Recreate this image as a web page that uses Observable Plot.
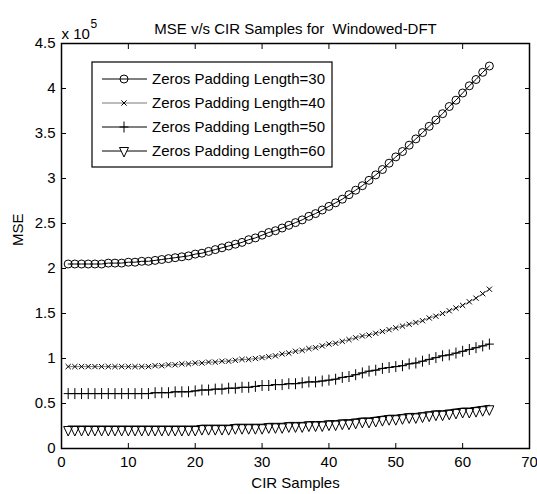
<!DOCTYPE html>
<html><head><meta charset="utf-8">
<script src="https://cdn.jsdelivr.net/npm/d3@7"></script>
<script src="https://cdn.jsdelivr.net/npm/@observablehq/plot@0.6"></script>
<style>body{margin:0;background:#fff;} svg{display:block}</style>
</head><body><div id="chart"></div>
<script>
const samples = [1,2,3,4,5,6,7,8,9,10,11,12,13,14,15,16,17,18,19,20,21,22,23,24,25,26,27,28,29,30,31,32,
  33,34,35,36,37,38,39,40,41,42,43,44,45,46,47,48,49,50,51,52,53,54,55,56,57,58,59,60,61,62,63,64];
const mse30 = [2.05,2.05,2.05,2.05,2.05,2.05,2.06,2.06,2.06,2.07,
  2.07,2.08,2.08,2.09,2.10,2.11,2.12,2.13,2.14,2.16,
  2.17,2.19,2.21,2.23,2.25,2.27,2.29,2.32,2.34,2.37,
  2.40,2.42,2.45,2.48,2.51,2.54,2.58,2.61,2.65,2.69,
  2.73,2.77,2.82,2.87,2.92,2.98,3.04,3.10,3.17,3.24,
  3.30,3.37,3.44,3.51,3.58,3.65,3.72,3.80,3.87,3.95,
  4.03,4.10,4.18,4.25];
const mse40 = [0.91,0.91,0.91,0.91,0.91,0.91,0.91,0.91,0.91,0.91,
  0.91,0.91,0.91,0.92,0.92,0.93,0.93,0.94,0.94,0.95,
  0.95,0.96,0.96,0.97,0.97,0.98,0.99,0.99,1.00,1.01,
  1.02,1.03,1.05,1.06,1.08,1.09,1.11,1.12,1.14,1.16,
  1.17,1.19,1.21,1.23,1.25,1.26,1.28,1.30,1.32,1.34,
  1.36,1.38,1.40,1.42,1.45,1.47,1.50,1.53,1.56,1.59,
  1.63,1.67,1.72,1.77];
const mse50 = [0.61,0.61,0.61,0.61,0.61,0.61,0.61,0.61,0.61,0.61,
  0.61,0.61,0.61,0.62,0.62,0.62,0.63,0.63,0.63,0.64,
  0.65,0.65,0.66,0.66,0.67,0.67,0.68,0.68,0.69,0.70,
  0.70,0.71,0.71,0.72,0.72,0.73,0.74,0.74,0.75,0.76,
  0.77,0.79,0.80,0.82,0.84,0.86,0.87,0.89,0.90,0.91,
  0.92,0.94,0.95,0.97,0.99,1.01,1.03,1.04,1.06,1.08,
  1.10,1.12,1.14,1.16];
const mse60 = [0.25,0.25,0.25,0.25,0.25,0.25,0.25,0.25,0.25,0.25,
  0.25,0.25,0.25,0.25,0.25,0.25,0.25,0.25,0.25,0.25,
  0.26,0.26,0.26,0.26,0.26,0.27,0.27,0.27,0.27,0.27,
  0.28,0.28,0.28,0.29,0.29,0.29,0.30,0.30,0.30,0.31,
  0.31,0.32,0.32,0.33,0.34,0.34,0.35,0.36,0.37,0.37,
  0.38,0.39,0.39,0.40,0.41,0.42,0.42,0.43,0.44,0.45,
  0.45,0.46,0.47,0.48];
const seriesNames = ["Zeros Padding Length=30","Zeros Padding Length=40","Zeros Padding Length=50","Zeros Padding Length=60"];
const xTicks = [0,10,20,30,40,50,60,70];
const xTickLabels = ["0","10","20","30","40","50","60","70"];
const yTicks = [0,0.5,1,1.5,2,2.5,3,3.5,4,4.5];
const yTickLabels = ["0","0.5","1","1.5","2","2.5","3","3.5","4","4.5"];
const titleText = "MSE v/s CIR Samples for  Windowed-DFT";
const xLabel = "CIR Samples";
const yLabel = "MSE";

// marker shapes
const symCircle = {draw(c){ c.moveTo(4,0); c.arc(0,0,4,0,2*Math.PI); }};
const symTimes = {draw(c){ c.moveTo(-2.6,-2.6); c.lineTo(2.6,2.6); c.moveTo(-2.6,2.6); c.lineTo(2.6,-2.6); }};
const symPlus = {draw(c){ c.moveTo(-4.5,0); c.lineTo(4.5,0); c.moveTo(0,-5.5); c.lineTo(0,5.5); }};
const symTri = {draw(c){ c.moveTo(-4.5,0.5); c.lineTo(4.5,0.5); c.lineTo(0,10); c.closePath(); }};
const symbols = [symCircle, symTimes, symPlus, symTri];
const lineColors = ["black","#555","black","black"];
const lineWidths = [1,0.8,1,1];

const allSeries = [mse30, mse40, mse50, mse60];
const rows = allSeries.map((vals, k) => samples.map((s, i) => ({x: s, y: vals[i], k})));

const font = "'Liberation Sans', Arial, Helvetica, sans-serif";
const marks = [];
rows.forEach((data, k) => {
  marks.push(Plot.line(data, {x: "x", y: "y", stroke: lineColors[k], strokeWidth: lineWidths[k]}));
  marks.push(Plot.dot(data, {x: "x", y: "y", symbol: symbols[k], stroke: "black", fill: "none", strokeWidth: 1, r: 3}));
});

const plot = Plot.plot({
  width: 537, height: 494,
  marginLeft: 61, marginRight: 8, marginTop: 43, marginBottom: 46,
  style: {fontFamily: font, fontSize: "15px", background: "white", color: "black", overflow: "visible"},
  x: {domain: [0,70], label: null},
  y: {domain: [0,4.5], label: null},
  marks: [
    ...marks,
    Plot.frame({stroke: "black", strokeWidth: 1.5}),
    Plot.axisX(xTicks, {anchor: "bottom", tickSize: -5, tickPadding: 13, tickFormat: d => xTickLabels[xTicks.indexOf(d)], fontSize: 15}),
    Plot.axisX(xTicks, {anchor: "top", tickSize: -5, tickFormat: () => ""}),
    Plot.axisY(yTicks, {anchor: "left", tickSize: -5, tickPadding: 11, tickFormat: d => yTickLabels[yTicks.indexOf(d)], fontSize: 15}),
    Plot.axisY(yTicks, {anchor: "right", tickSize: -5, tickFormat: () => ""}),
    Plot.text([titleText], {frameAnchor: "top", dy: -20, text: d => d, fontSize: 15}),
    Plot.text([xLabel], {frameAnchor: "bottom", dy: 39, text: d => d, fontSize: 15}),
    Plot.text([yLabel], {frameAnchor: "left", dx: -43, rotate: -90, text: d => d, fontSize: 15}),
    Plot.text(["x 10"], {frameAnchor: "top-left", dy: -15, textAnchor: "start", text: d => d, fontSize: 15}),
    Plot.text(["5"], {frameAnchor: "top-left", dx: 29, dy: -24, textAnchor: "start", text: d => d, fontSize: 12})
  ]
});
document.getElementById("chart").appendChild(plot);

// legend
const svg = d3.select(plot);
const lg = svg.append("g").attr("font-family", font).attr("font-size", 15).attr("text-anchor", "start");
lg.append("rect").attr("x", 92).attr("y", 62).attr("width", 240).attr("height", 105)
  .attr("fill", "white").attr("stroke", "black").attr("stroke-width", 1.2);
seriesNames.forEach((name, k) => {
  const cy = 79 + 24 * k;
  lg.append("line").attr("x1", 102).attr("x2", 147).attr("y1", cy).attr("y2", cy)
    .attr("stroke", lineColors[k]).attr("stroke-width", lineWidths[k]);
  lg.append("path").attr("d", d3.symbol(symbols[k])()).attr("transform", `translate(124,${k === 3 ? cy - 4 : cy})`)
    .attr("fill", k === 3 ? "white" : "none").attr("stroke", "black").attr("stroke-width", 1);
  lg.append("text").attr("x", 152).attr("y", cy).attr("dy", "0.35em").attr("text-anchor", "start").attr("fill", "black").text(name);
});
</script>
</body></html>
